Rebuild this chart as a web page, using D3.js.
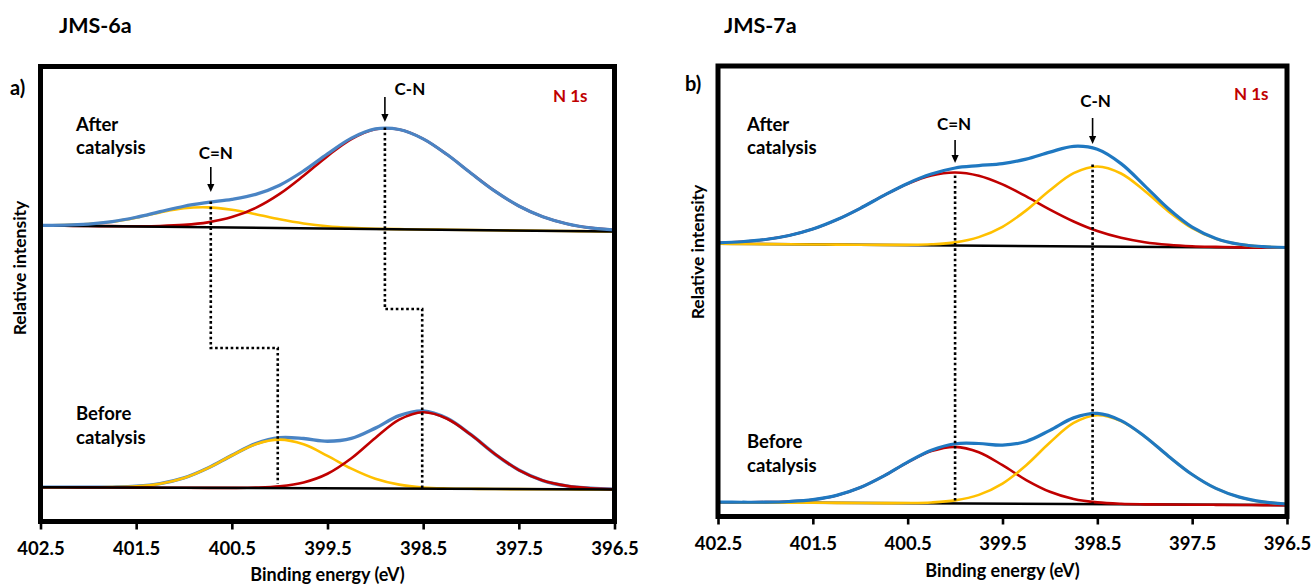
<!DOCTYPE html>
<html>
<head>
<meta charset="utf-8">
<script src="https://cdn.jsdelivr.net/npm/d3@7"></script>
<style>
  body { margin: 0; background: #fff; }
  svg text { font-family: Lato, "Open Sans", "Liberation Sans", sans-serif; font-weight: 700; }
</style>
</head>
<body>
<svg id="fig" width="1311" height="584"></svg>
<script>
// ---------------------------------------------------------------------------
// N 1s spectra: binding-energy grid (eV) shared by every curve
const energy = [402.5, 402.25, 402.0, 401.75, 401.5, 401.25, 401.0, 400.75, 400.5,
                400.25, 400.0, 399.75, 399.5, 399.25, 399.0, 398.75, 398.5, 398.25,
                398.0, 397.75, 397.5, 397.25, 397.0, 396.75, 396.5];
const tickValues = [402.5, 401.5, 400.5, 399.5, 398.5, 397.5, 396.5];

// Intensities above the linear background (relative units)
// JMS-6a, after catalysis
const a_after_CdN  = [0.2, 0.6, 1.9, 4.5, 8.9, 14.3, 18.7, 19.9, 17.8, 13.5, 8.7, 4.8, 2.2, 0.9, 0.3, 0.1, 0, 0, 0, 0, 0, 0, 0, 0, 0];
const a_after_CN   = [0, 0, 0, 0.1, 0.3, 0.8, 2.1, 4.9, 10.4, 19.9, 34.1, 52.5, 72.4, 89.7, 99.8, 99.7, 90.7, 75.2, 56.8, 39.1, 24.5, 14.0, 7.3, 3.4, 1.5];
const a_after_env  = [0.2, 0.6, 1.9, 4.6, 9.2, 15.1, 20.8, 24.8, 28.2, 33.4, 42.8, 57.3, 74.6, 90.6, 100.1, 99.8, 90.7, 75.2, 56.8, 39.1, 24.5, 14.0, 7.3, 3.4, 1.5];
// JMS-6a, before catalysis
const a_before_CdN = [0, 0, 0.1, 0.4, 1.3, 4.0, 9.8, 19.8, 32.5, 43.9, 48.5, 43.9, 32.5, 19.8, 9.8, 4.0, 1.3, 0.4, 0.1, 0, 0, 0, 0, 0, 0];
const a_before_CN  = [0, 0, 0, 0, 0, 0, 0, 0, 0.1, 0.5, 1.9, 5.8, 14.6, 30.2, 50.6, 69.0, 76.5, 70.1, 54.1, 35.0, 19.1, 8.7, 3.4, 1.1, 0.3];
const a_before_env = [0, 0, 0.1, 0.4, 1.3, 4.0, 9.8, 19.8, 32.6, 44.4, 50.4, 49.7, 47.1, 50.0, 60.4, 73.0, 77.8, 70.5, 54.2, 35.0, 19.1, 8.7, 3.4, 1.1, 0.3];
// JMS-7a, after catalysis
const b_after_CdN  = [0.9, 2.2, 4.6, 8.8, 15.4, 24.8, 36.5, 49.5, 61.4, 69.9, 73.0, 69.9, 61.4, 49.5, 36.5, 24.8, 15.4, 8.8, 4.6, 2.2, 0.9, 0.4, 0.1, 0, 0];
const b_after_CN   = [0, 0, 0, 0, 0, 0, 0, 0.1, 0.3, 1.0, 3.1, 8.5, 19.0, 35.6, 55.8, 73.1, 80.0, 73.1, 55.8, 35.6, 19.0, 8.5, 3.1, 1.0, 0.3];
const b_after_env  = [0.9, 2.2, 4.6, 8.8, 15.4, 24.8, 36.5, 49.6, 61.7, 71.2, 77.5, 80.0, 82.2, 86.8, 94.0, 100.0, 97.2, 83.0, 61.0, 38.2, 20.0, 8.9, 3.2, 1.0, 0.3];
// JMS-7a, before catalysis
const b_before_CdN = [0, 0.1, 0.3, 1.1, 3.0, 7.4, 15.4, 27.2, 40.9, 52.2, 56.6, 51.4, 38.5, 23.8, 12.2, 5.1, 1.8, 0.5, 0.1, 0, 0, 0, 0, 0, 0];
const b_before_CN  = [0, 0, 0, 0, 0, 0, 0, 0, 0.2, 0.9, 3.1, 8.7, 20.1, 38.6, 61.4, 81.1, 89.0, 83.2, 67.9, 48.4, 30.2, 16.4, 7.8, 3.2, 1.2];
const b_before_env = [0, 0.1, 0.3, 1.1, 3.0, 7.4, 15.4, 27.2, 41.1, 53.1, 59.7, 60.1, 58.6, 62.4, 73.6, 86.2, 90.8, 83.7, 68.0, 48.4, 30.2, 16.4, 7.8, 3.2, 1.2];

// Linear backgrounds (value at 402.5 eV, value at 396.5 eV); "after" traces are stacked higher
const a_after_bg  = [296, 290];
const a_before_bg = [34.3, 32];
const b_after_bg  = [272.7, 268.7];
const b_before_bg = [14.3, 11.3];

// Peak positions marked by arrows / dotted guides (eV)
const a_peaks_after  = { CdN: 400.72, CN: 398.9 };
const a_peaks_before = { CdN: 400.02, CN: 398.51 };
const b_peaks        = { CdN: 400.0, CN: 398.55 };

// ---------------------------------------------------------------------------
const COL = { yellow: "#FFC000", red: "#C00000", blueA: "#4A84C4", blueB: "#1F78C1", black: "#000" };
const svg = d3.select("#fig");

function panel(cfg) {
  const { x0, x1, y0, y1 } = cfg.frame;
  const x = d3.scaleLinear().domain([402.5, 396.5]).range([x0, x1]);
  const y = d3.scaleLinear().domain([0, y1 - y0]).range([y1, y0]);
  const g = svg.append("g");

  const line = d3.line().x(d => x(d.e)).y(d => y(d.v)).curve(d3.curveCatmullRom.alpha(0.5));
  const bgScale = bg => d3.scaleLinear().domain([402.5, 396.5]).range(bg);
  const trace = (vals, bg) => { const b = bgScale(bg); return energy.map((e, i) => ({ e, v: b(e) + vals[i] })); };
  const bgLine = bg => { const b = bgScale(bg); return [402.5, 396.5].map(e => ({ e, v: b(e) })); };

  const draw = (pts, color, w) => g.append("path").attr("d", line(pts))
      .attr("fill", "none").attr("stroke", color).attr("stroke-width", w)
      .attr("stroke-linejoin", "round").attr("stroke-linecap", "round");

  // curves, in stacking order
  cfg.layers.forEach(L => {
    if (L.kind === "bg") draw(bgLine(L.bg), COL.black, 2.5);
    else draw(trace(L.vals, L.bg), L.color, L.w);
  });

  // dotted guides
  const straight = d3.line().x(d => x(d[0])).y(d => y(d[1]));
  cfg.guides.forEach(pts => g.append("path").attr("d", straight(pts))
      .attr("fill", "none").attr("stroke", "#000").attr("stroke-width", 2.6)
      .attr("stroke-dasharray", "2.6,2.6"));

  // arrows
  cfg.arrows.forEach(a => {
    const ax = x(a.e), ya = y(a.from), yb = y(a.to);
    g.append("line").attr("x1", ax).attr("x2", ax).attr("y1", ya).attr("y2", yb - 6)
      .attr("stroke", "#000").attr("stroke-width", 1.6);
    g.append("path").attr("d", `M${ax - 3.6},${yb - 8}L${ax + 3.6},${yb - 8}L${ax},${yb}Z`).attr("fill", "#000");
  });

  // frame
  g.append("rect").attr("x", x0).attr("y", y0).attr("width", x1 - x0).attr("height", y1 - y0)
    .attr("fill", "none").attr("stroke", "#000").attr("stroke-width", 5);

  // x axis
  const ax = g.append("g").attr("transform", `translate(0,${y1})`)
    .call(d3.axisBottom(x).tickValues(tickValues).tickFormat(d3.format(".1f")).tickSize(8).tickPadding(12));
  ax.select(".domain").remove();
  ax.selectAll(".tick line").attr("stroke", "#000").attr("stroke-width", 2.6);
  ax.selectAll(".tick text").attr("font-size", 18.5).attr("fill", "#000")
    .style("font-family", "Lato, 'Open Sans', sans-serif").style("font-weight", 700);

  // texts
  const txt = (tx, ty, s, size, opts = {}) => g.append("text").attr("x", tx).attr("y", ty).attr("dy", "0.35em")
      .attr("font-size", size).attr("text-anchor", opts.anchor || "start").attr("fill", opts.fill || "#000")
      .attr("transform", opts.rot ? `rotate(-90,${tx},${ty})` : null).text(s);

  txt(cfg.title[0], 25, cfg.title[2], 21.5);
  txt(cfg.tag[0], cfg.tag[1], cfg.tag[2], 20);
  txt(cfg.n1s[0], cfg.n1s[1], "N 1s", 17, { fill: "#C00000" });
  cfg.words.forEach(w => txt(w[0], w[1], w[2], 18.5));
  cfg.peakLabels.forEach(p => txt(x(p.e) + p.dx, p.y, p.s, 17, { anchor: "middle" }));
  txt((x0 + x1) / 2, cfg.xTitleY, "Binding energy (eV)", 18, { anchor: "middle" });
  txt(cfg.yTitle[0], cfg.yTitle[1], "Relative intensity", 17.5, { anchor: "middle", rot: true });
}

// Panel a) JMS-6a
panel({
  frame: { x0: 40.5, x1: 614.5, y0: 66.5, y1: 521.5 },
  layers: [
    { vals: a_after_CdN, bg: a_after_bg, color: COL.yellow, w: 2.6 },
    { vals: a_after_CN, bg: a_after_bg, color: COL.red, w: 2.6 },
    { kind: "bg", bg: a_after_bg },
    { vals: a_after_env, bg: a_after_bg, color: COL.blueA, w: 3.2 },
    { vals: a_before_env, bg: a_before_bg, color: COL.blueA, w: 3.4 },
    { vals: a_before_CdN, bg: a_before_bg, color: COL.yellow, w: 2.6 },
    { vals: a_before_CN, bg: a_before_bg, color: COL.red, w: 2.6 },
    { kind: "bg", bg: a_before_bg }
  ],
  guides: [
    [[a_peaks_after.CdN, 320], [a_peaks_after.CdN, 173.5], [a_peaks_before.CdN, 173.5], [a_peaks_before.CdN, 38]],
    [[a_peaks_after.CN, 394], [a_peaks_after.CN, 212.5], [a_peaks_before.CN, 212.5], [a_peaks_before.CN, 32]]
  ],
  arrows: [
    { e: a_peaks_after.CN, from: 424.5, to: 399.5 },
    { e: a_peaks_after.CdN, from: 354.5, to: 329.5 }
  ],
  title: [59, 25, "JMS-6a"],
  tag: [10, 88, "a)"],
  n1s: [553, 96],
  words: [[76, 125, "After"], [76, 148, "catalysis"], [76, 414, "Before"], [76, 438, "catalysis"]],
  peakLabels: [
    { e: a_peaks_after.CN, dx: 25, y: 89, s: "C-N" },
    { e: a_peaks_after.CdN, dx: 5, y: 153, s: "C=N" }
  ],
  xTitleY: 575,
  yTitle: [20, 268]
});

// Panel b) JMS-7a
panel({
  frame: { x0: 718, x1: 1287, y0: 66, y1: 516.5 },
  layers: [
    { kind: "bg", bg: b_after_bg },
    { vals: b_after_CdN, bg: b_after_bg, color: COL.red, w: 2.6 },
    { vals: b_after_CN, bg: b_after_bg, color: COL.yellow, w: 2.6 },
    { vals: b_after_env, bg: b_after_bg, color: COL.blueB, w: 3.2 },
    { kind: "bg", bg: b_before_bg },
    { vals: b_before_CdN, bg: b_before_bg, color: COL.red, w: 2.6 },
    { vals: b_before_CN, bg: b_before_bg, color: COL.yellow, w: 2.6 },
    { vals: b_before_env, bg: b_before_bg, color: COL.blueB, w: 3.2 }
  ],
  guides: [
    [[b_peaks.CdN, 341], [b_peaks.CdN, 14]],
    [[b_peaks.CN, 352], [b_peaks.CN, 13]]
  ],
  arrows: [
    { e: b_peaks.CN, from: 398.5, to: 372.5 },
    { e: b_peaks.CdN, from: 376.5, to: 353.5 }
  ],
  title: [724, 25, "JMS-7a"],
  tag: [685, 84, "b)"],
  n1s: [1234, 94],
  words: [[747, 125, "After"], [747, 148, "catalysis"], [747, 442, "Before"], [747, 466, "catalysis"]],
  peakLabels: [
    { e: b_peaks.CN, dx: 3, y: 101, s: "C-N" },
    { e: b_peaks.CdN, dx: -1, y: 124, s: "C=N" }
  ],
  xTitleY: 571,
  yTitle: [698, 252]
});
</script>
</body>
</html>
